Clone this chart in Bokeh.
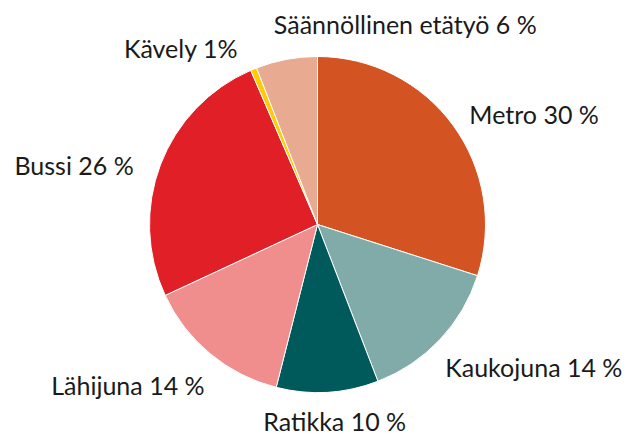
import math
from bokeh.plotting import figure
from bokeh.models import Range1d, ColumnDataSource
from bokeh.core.properties import value
from bokeh.embed import file_html
from bokeh.resources import INLINE

categories = ["Metro", "Kaukojuna", "Ratikka", "Lähijuna", "Bussi", "Kävely", "Säännöllinen etätyö"]
shares = [29.9, 14.2, 9.8, 14.1, 25.4, 0.6, 5.9]
label_pct = ["30 %", "14 %", "10 %", "14 %", "26 %", "1%", "6 %"]
colors = ["#D35322", "#80ABA9", "#00595A", "#F08E8E", "#E01F26", "#FFCB05", "#E8AA90"]

# label layout (screen-pixel nudges from the slice's mid-angle anchor; style only)
label_align = ["left", "left", "center", "right", "right", "right", "left"]
label_nudge_x = [0, -9, 6, 7, -8, -8, -9]
label_nudge_y = [0, 13, 9, 16, 7, -3, -16]

W, H = 635, 435
cx, cy, R = 317, H - 224, 168
label_dist = 20

total = sum(shares)
starts, ends, mids = [], [], []
acc = 0.0
for s in shares:
    a0 = math.pi / 2 - 2 * math.pi * acc / total
    acc += s
    a1 = math.pi / 2 - 2 * math.pi * acc / total
    starts.append(a0)
    ends.append(a1)
    mids.append((a0 + a1) / 2)

src = ColumnDataSource(dict(start=starts, end=ends, color=colors, cat=categories))

p = figure(width=W, height=H, x_range=Range1d(0, W), y_range=Range1d(0, H),
           output_backend="svg", toolbar_location=None, min_border=0)
p.axis.visible = False
p.grid.visible = False
p.outline_line_color = None
p.background_fill_color = "white"

p.wedge(x=cx, y=cy, radius=R, start_angle="start", end_angle="end", direction="clock",
        fill_color="color", line_color="white", line_width=1, source=src)

lx, ly, txt = [], [], []
for c, pct, m, nx, ny in zip(categories, label_pct, mids, label_nudge_x, label_nudge_y):
    r = R + label_dist
    lx.append(cx + r * math.cos(m) + nx)
    ly.append(cy + r * math.sin(m) - ny)
    txt.append(f"{c} {pct}")

lsrc = ColumnDataSource(dict(x=lx, y=ly, text=txt, align=label_align))
p.text(x="x", y="y", text="text", text_align="align", text_baseline="middle",
       text_font=value("Lato"), text_font_size="25px", text_color="#1a1a1a", source=lsrc)

open("out.html", "w").write(file_html(p, INLINE))
